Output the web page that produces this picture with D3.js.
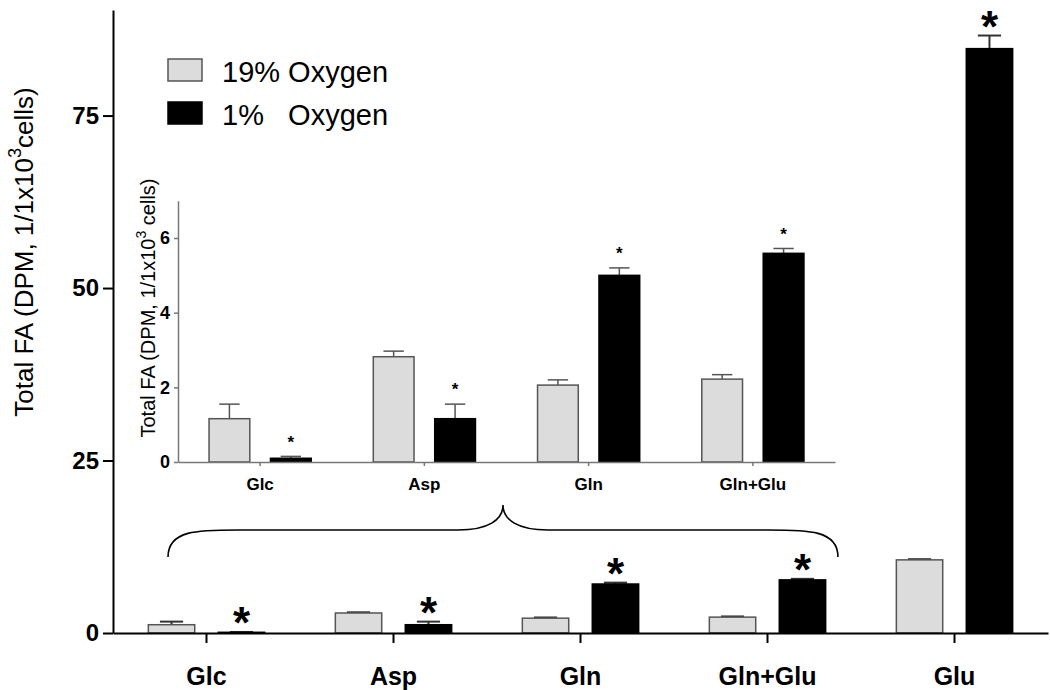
<!DOCTYPE html>
<html><head><meta charset="utf-8">
<script src="https://cdn.jsdelivr.net/npm/d3@7"></script>
<style>body{margin:0;background:#fff}text{font-family:"Liberation Sans",Arial,sans-serif}</style>
</head><body><svg id="c" width="1050" height="690"></svg>
<script>
// ---- data ----
const categories = ["Glc","Asp","Gln","Gln+Glu","Glu"];
const series = ["19% Oxygen","1%   Oxygen"];
const normoxia = [1.2, 2.9, 2.15, 2.3, 10.6];
const normoxiaErr = [1.65, 3.0, 2.25, 2.4, 10.7];
const hypoxia = [0.1, 1.2, 7.1, 7.7, 84.7];
const hypoxiaErr = [0.15, 1.65, 7.3, 7.85, 86.6];
const yTicks = [0, 25, 50, 75];

const insetCategories = ["Glc","Asp","Gln","Gln+Glu"];
const insetNormoxia = [1.16, 2.82, 2.06, 2.22];
const insetNormoxiaErr = [1.55, 2.97, 2.2, 2.34];
const insetHypoxia = [0.1, 1.16, 5.0, 5.59];
const insetHypoxiaErr = [0.15, 1.55, 5.2, 5.72];
const insetTicks = [0, 2, 4, 6];

const svg = d3.select("#c");
const colors = ["#dcdcdc", "#000"];

function drawPanel(g, o) {
  const x = d3.scaleBand().domain(o.cats).range([o.x0, o.x1]);
  const y = d3.scaleLinear().domain(o.ydom).range([o.y0, o.y1]);
  const bw = x.bandwidth() * 0.248, gap = x.bandwidth() * 0.063;
  const bx = (c, i) => x(c) + x.bandwidth() / 2 + (i === 0 ? -gap - bw : gap);
  [o.a, o.b].forEach((vals, i) => {
    const errs = i === 0 ? o.ae : o.be;
    const grp = g.append("g");
    grp.selectAll("line.e").data(o.cats).join("line")
      .attr("x1", (c) => bx(c, i) + bw / 2).attr("x2", (c) => bx(c, i) + bw / 2)
      .attr("y1", (c, k) => y(vals[k])).attr("y2", (c, k) => y(errs[k]))
      .attr("stroke", o.errColor).attr("stroke-width", o.ew);
    grp.selectAll("line.c").data(o.cats).join("line")
      .attr("x1", (c) => bx(c, i) + bw / 4).attr("x2", (c) => bx(c, i) + bw * 3 / 4)
      .attr("y1", (c, k) => y(errs[k])).attr("y2", (c, k) => y(errs[k]))
      .attr("stroke", o.errColor).attr("stroke-width", o.ew);
    grp.selectAll("rect").data(o.cats).join("rect")
      .attr("x", (c) => bx(c, i)).attr("width", bw)
      .attr("y", (c, k) => y(vals[k])).attr("height", (c, k) => y(0) - y(vals[k]))
      .attr("fill", colors[i]).attr("stroke", i === 0 ? "#555" : "#000").attr("stroke-width", 1.5);
    if (i === 1) {
      grp.selectAll("text.s").data(o.cats).join("text")
        .attr("x", (c) => bx(c, i) + bw / 2)
        .attr("y", (c, k) => y(errs[k]) - o.starGap + o.starFs * 0.55)
        .attr("text-anchor", "middle").attr("font-weight", "bold")
        .attr("font-size", o.starFs).text("*");
    }
  });
  const ax = g.append("g").attr("transform", `translate(0,${o.y0})`)
    .call(d3.axisBottom(x).tickSize(o.xtick).tickSizeOuter(0).tickPadding(o.xpad));
  ax.select(".domain").attr("stroke", o.axisColor).attr("stroke-width", o.aw);
  ax.selectAll(".tick line").attr("stroke", o.axisColor).attr("stroke-width", o.aw);
  ax.selectAll(".tick text").attr("font-size", o.xfs).attr("font-weight", "bold").attr("fill", "#000");
  const ay = g.append("g").attr("transform", `translate(${o.x0},0)`)
    .call(d3.axisLeft(y).tickValues(o.ticks).tickFormat(d3.format("d")).tickSize(o.ytick).tickSizeOuter(0).tickPadding(o.ypad));
  ay.select(".domain").attr("stroke", o.axisColor).attr("stroke-width", o.aw);
  ay.selectAll(".tick line").attr("stroke", o.axisColor).attr("stroke-width", o.aw);
  ay.selectAll(".tick text").attr("font-size", o.yfs).attr("font-weight", "bold").attr("fill", "#000");
  return {x, y};
}

const main = drawPanel(svg.append("g"), {
  cats: categories, a: normoxia, ae: normoxiaErr, b: hypoxia, be: hypoxiaErr,
  x0: 113, x1: 1048, y0: 633, y1: 10, ydom: [0, 90.3], ticks: yTicks,
  errColor: "#333", ew: 2, starFs: 44, starGap: 18,
  axisColor: "#000", aw: 2, xtick: 10, xpad: 24, ytick: 10, ypad: 4, xfs: 25, yfs: 24
});

const inset = drawPanel(svg.append("g"), {
  cats: insetCategories, a: insetNormoxia, ae: insetNormoxiaErr, b: insetHypoxia, be: insetHypoxiaErr,
  x0: 178, x1: 835, y0: 462, y1: 200.7, ydom: [0, 7], ticks: insetTicks,
  errColor: "#555", ew: 1.5, starFs: 17, starGap: 18,
  axisColor: "#777", aw: 1.5, xtick: 4, xpad: 12, ytick: 4, ypad: 4, xfs: 17, yfs: 18
});

function yTitle(x, y, fs, sup, tail) {
  const t = svg.append("text").attr("transform", `translate(${x},${y}) rotate(-90)`)
    .attr("text-anchor", "middle").attr("font-size", fs).attr("fill", "#000");
  t.append("tspan").text("Total FA (DPM, 1/1x10");
  t.append("tspan").attr("dy", -0.45 * fs).attr("font-size", fs * 0.7).text(sup);
  t.append("tspan").attr("dy", 0.45 * fs).text(tail);
  return t;
}
yTitle(33, 252, 26, "3", "cells)");
yTitle(155, 308, 20, "3", " cells)");

// brace (group Glc..Gln+Glu)
const bxL = main.x("Glc") + 55, bxR = main.x("Gln+Glu") + main.x.bandwidth() - 23, bxM = (bxL + bxR) / 2;
const yEnd = 557, yRun = 530, yTip = 505;
svg.append("path").attr("fill", "none").attr("stroke", "#000").attr("stroke-width", 1.6)
  .attr("d", `M${bxL},${yEnd} C${bxL},${yRun} ${bxL + 30},${yRun} ${bxL + 70},${yRun}
   L${bxM - 45},${yRun} C${bxM - 15},${yRun} ${bxM},${yRun - 10} ${bxM},${yTip}
   C${bxM},${yRun - 10} ${bxM + 15},${yRun} ${bxM + 45},${yRun}
   L${bxR - 70},${yRun} C${bxR - 30},${yRun} ${bxR},${yRun} ${bxR},${yEnd}`);

// legend
const lg = svg.append("g");
series.forEach((s, i) => {
  lg.append("rect").attr("x", 168).attr("y", 59 + i * 43).attr("width", 34).attr("height", 22)
    .attr("fill", colors[i]).attr("stroke", i === 0 ? "#555" : "#000").attr("stroke-width", 1.5);
  lg.append("text").attr("x", 222).attr("y", 82 + i * 43).attr("font-size", 29)
    .style("white-space", "pre").attr("xml:space", "preserve").text(s);
});
</script></body></html>
